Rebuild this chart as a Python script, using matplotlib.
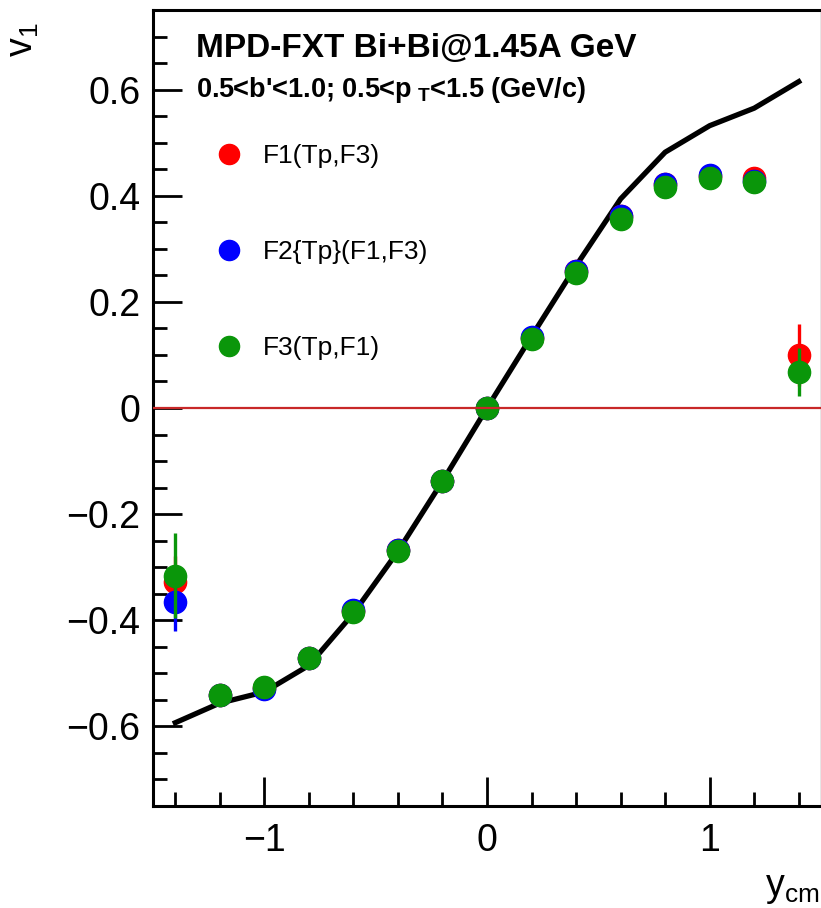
import matplotlib
matplotlib.use("Agg")
import matplotlib.pyplot as plt
from matplotlib.lines import Line2D
import numpy as np

plt.rcParams['font.family'] = ['Liberation Sans', 'DejaVu Sans']
plt.rcParams['mathtext.fontset'] = 'custom'
plt.rcParams['mathtext.rm'] = 'Liberation Sans'
plt.rcParams['mathtext.bf'] = 'Liberation Sans:bold'

# rapidity bins
y_cm = [-1.4, -1.2, -1.0, -0.8, -0.6, -0.4, -0.2, 0.0, 0.2, 0.4, 0.6, 0.8, 1.0, 1.2, 1.4]

# F1(Tp,F3)
v1_f1 = [-0.328, -0.541, -0.527, -0.472, -0.383, -0.268, -0.137, 0.0, 0.132, 0.258, 0.362, 0.423, 0.437, 0.433, 0.100]
err_f1 = [0.05, 0.01, 0.01, 0.01, 0.01, 0.01, 0.01, 0.01, 0.01, 0.01, 0.01, 0.01, 0.01, 0.01, 0.058]

# F2{Tp}(F1,F3)
y_f2 = [-1.4, -1.2, -1.0, -0.8, -0.6, -0.4, -0.2, 0.0, 0.2, 0.4, 0.6, 0.8, 1.0, 1.2]
v1_f2 = [-0.366, -0.541, -0.529, -0.472, -0.380, -0.268, -0.137, 0.0, 0.133, 0.258, 0.362, 0.422, 0.440, 0.428]
err_f2 = [0.055, 0.01, 0.01, 0.01, 0.01, 0.01, 0.01, 0.01, 0.01, 0.01, 0.01, 0.01, 0.01, 0.01]

# F3(Tp,F1)
v1_f3 = [-0.316, -0.541, -0.526, -0.471, -0.385, -0.270, -0.138, 0.0, 0.130, 0.255, 0.357, 0.417, 0.434, 0.425, 0.068]
err_f3 = [0.08, 0.01, 0.01, 0.01, 0.01, 0.01, 0.01, 0.01, 0.01, 0.01, 0.01, 0.01, 0.01, 0.01, 0.045]

# model curve
model_y = [-1.4, -1.2, -1.0, -0.8, -0.6, -0.4, -0.2, 0.0, 0.2, 0.4, 0.6, 0.8, 1.0, 1.2, 1.4]
model_v1 = [-0.593, -0.556, -0.535, -0.485, -0.387, -0.27, -0.138, 0.0, 0.135, 0.268, 0.394, 0.482, 0.532, 0.565, 0.615]

labels = ['F1(Tp,F3)', 'F2{Tp}(F1,F3)', 'F3(Tp,F1)']
colors = ['#ff0000', '#0000ff', '#0a960a']

fig = plt.figure(figsize=(8.21, 9.08), dpi=100)
ax = fig.add_axes([0.1864, 0.1123, 0.8136, 0.8767])

ax.plot(model_y, model_v1, color='black', lw=3.8, zorder=2)

ms = 16
ax.errorbar(y_cm, v1_f1, yerr=err_f1, fmt='o', color=colors[0], ms=ms, elinewidth=2.4, capsize=0, zorder=3)
ax.errorbar(y_f2, v1_f2, yerr=err_f2, fmt='o', color=colors[1], ms=ms, elinewidth=2.4, capsize=0, zorder=4)
ax.errorbar(y_cm, v1_f3, yerr=err_f3, fmt='o', color=colors[2], ms=ms, elinewidth=2.4, capsize=0, zorder=5)

ax.axhline(0, color='#c82828', lw=1.6, zorder=6)

ax.set_xlim(-1.5, 1.5)
ax.set_ylim(-0.75, 0.75)
ax.set_xticks([-1, 0, 1])
ax.set_xticklabels(['\u22121', '0', '1'])
ax.set_xticks(np.arange(-1.4, 1.41, 0.2), minor=True)
yt = [-0.6, -0.4, -0.2, 0, 0.2, 0.4, 0.6]
ax.set_yticks(yt)
ax.set_yticklabels(['\u22120.6', '\u22120.4', '\u22120.2', '0', '0.2', '0.4', '0.6'])
ax.set_yticks(np.arange(-0.7, 0.71, 0.05), minor=True)
ax.tick_params(which='both', direction='in', top=False, right=False, width=2, labelsize=27)
ax.tick_params(which='major', length=21)
ax.tick_params(which='minor', length=10)
ax.tick_params(axis='y', pad=9)
ax.tick_params(axis='x', pad=12)
for s in ['left', 'bottom', 'top']:
    ax.spines[s].set_linewidth(2.2)
ax.spines['right'].set_linewidth(1.0)
ax.spines['right'].set_color('#808080')

ax.text(0.065, 0.952, 'MPD-FXT Bi+Bi@1.45A GeV', transform=ax.transAxes,
        fontsize=24, fontweight='bold', va='center', ha='left')
ax.text(0.065, 0.9, "0.5<b'<1.0; 0.5<p$_{\\mathbf{\\ T}}$<1.5 (GeV/c)", transform=ax.transAxes,
        fontsize=19.5, fontweight='bold', va='center', ha='left')

handles = [Line2D([], [], ls='none', marker='o', color=c, ms=14.5) for c in colors]
ax.legend(handles, labels, loc='upper left', bbox_to_anchor=(0.066, 0.861), frameon=False, fontsize=19,
          labelspacing=2.73, handlelength=0.6, handletextpad=1.0)

fig.text(0.028, 0.975, r'$\mathregular{v_1}$', rotation=90, ha='center', va='top', fontsize=27)
fig.text(0.998, 0.002, r'$\mathregular{y_{cm}}$', ha='right', va='bottom', fontsize=27)

fig.savefig('out.png', dpi=100)
